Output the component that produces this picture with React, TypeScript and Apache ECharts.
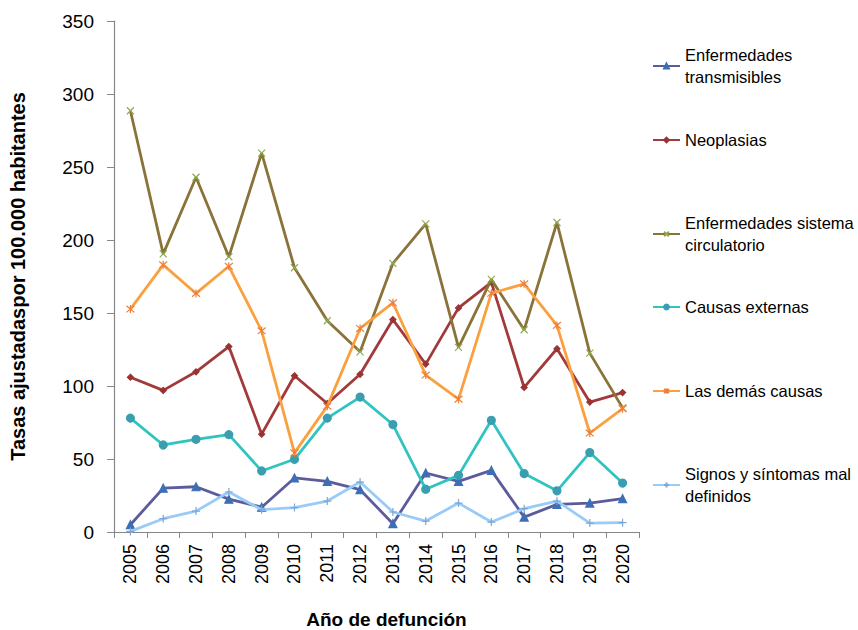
import React, { useEffect, useRef } from "react";
import * as echarts from "echarts";

const years = ["2005","2006","2007","2008","2009","2010","2011","2012","2013","2014","2015","2016","2017","2018","2019","2020"];
const transmisibles = [5, 30, 31, 22.5, 17, 37, 34.7, 29, 5.7, 40.4, 34.7, 42.2, 10.2, 18.9, 19.8, 22.8];
const neoplasias = [106, 97, 109.7, 127, 67, 107, 88, 108, 145.5, 115, 153.5, 171, 99, 125.5, 89, 95.5];
const circulatorio = [288.5, 190.5, 243, 188.5, 259.5, 181, 144.7, 123.4, 184, 211, 126.5, 173, 138.5, 212, 122.5, 85];
const externas = [78, 59.6, 63.5, 66.7, 41.8, 49.8, 78, 92.4, 73.6, 29.3, 38.8, 76.5, 40, 28.2, 54.4, 33.5];
const demas = [152.7, 183, 163.4, 182, 137.8, 54.2, 86.2, 139.4, 157, 107.5, 91, 163.5, 170, 141.5, 67.8, 84.5];
const signos = [0.4, 9.1, 14.3, 27.4, 15.3, 16.7, 21.2, 34.2, 13.7, 7.5, 19.8, 6.8, 16, 21.2, 6.1, 6.4];
const yTicks = [0, 50, 100, 150, 200, 250, 300, 350];

const names = [
  "Enfermedades transmisibles",
  "Neoplasias",
  "Enfermedades sistema circulatorio",
  "Causas externas",
  "Las demás causas",
  "Signos y síntomas mal definidos",
];
const legendLabels = [
  "Enfermedades\ntransmisibles",
  "Neoplasias",
  "Enfermedades sistema\ncirculatorio",
  "Causas externas",
  "Las demás causas",
  "Signos y síntomas mal\ndefinidos",
];
const legendTops = [33, 129, 201, 296, 380, 452];

const FONT = "'Liberation Sans', Arial, sans-serif";

export default function App() {
  const ref = useRef<HTMLDivElement>(null);
  useEffect(() => {
    if (!ref.current) return;
    const chart = echarts.init(ref.current, undefined, { renderer: "svg" });
    const X = "path://M0,0L10,10M10,0L0,10";
    const AST = "path://M0,0L10,10M10,0L0,10M5,-1L5,11";
    const PLUS = "path://M5,0L5,10M0,5L10,5";
    const seriesDefs = [
      { data: transmisibles, line: "#5C5C9C", mark: "#3C6FB6", symbol: "triangle", size: 8 },
      { data: neoplasias, line: "#A23A3B", mark: "#9A3333", symbol: "diamond", size: 6 },
      { data: circulatorio, line: "#8A7339", mark: "#8DAA50", symbol: X, size: 7 },
      { data: externas, line: "#30C4C1", mark: "#3A9EB0", symbol: "circle", size: 8 },
      { data: demas, line: "#FBA03E", mark: "#EB7F3C", symbol: AST, size: 8 },
      { data: signos, line: "#99CBF8", mark: "#7DA7D8", symbol: PLUS, size: 8 },
    ];
    const multi = (i: number) => legendLabels[i].indexOf("\n") >= 0;
    chart.setOption({
      animation: false,
      grid: {
        left: 114,
        right: 219,
        top: 21,
        bottom: 98,
        containLabel: false,
        outerBoundsMode: "none",
      },
      legend: names.map((n, i) => ({
        data: [n],
        left: 652,
        top: legendTops[i],
        padding: 0,
        itemWidth: 27,
        itemHeight: 6,
        orient: "vertical",
        selectedMode: false,
        formatter: () => legendLabels[i],
        textStyle: {
          fontFamily: FONT,
          fontSize: 16.5,
          color: "#000",
          lineHeight: 22,
          padding: multi(i) ? [22, 0, 0, 0] : 0,
        },
      })),
      xAxis: {
        type: "category",
        data: years,
        boundaryGap: true,
        name: "Año de defunción",
        nameLocation: "middle",
        nameGap: 78,
        nameTextStyle: {
          fontFamily: FONT,
          fontWeight: "bold",
          fontSize: 19,
          color: "#000",
          padding: [0, 0, 0, 20],
        },
        axisLine: { lineStyle: { color: "#878787", width: 1.2 } },
        axisTick: { show: true, length: 6, lineStyle: { color: "#878787" } },
        axisLabel: { rotate: 90, fontSize: 18, fontFamily: FONT, color: "#000", margin: 12 },
        splitLine: { show: false },
      },
      yAxis: {
        type: "value",
        min: 0,
        max: 350,
        interval: 50,
        name: "Tasas ajustadaspor 100.000 habitantes",
        nameLocation: "middle",
        nameGap: 86,
        nameTextStyle: {
          fontFamily: FONT,
          fontWeight: "bold",
          fontSize: 20,
          color: "#000",
        },
        axisLine: { show: true, lineStyle: { color: "#878787", width: 1.2 } },
        axisTick: { show: true, length: 7, lineStyle: { color: "#878787" } },
        axisLabel: {
          fontSize: 19,
          fontFamily: FONT,
          color: "#000",
          margin: 20,
          formatter: (v: number) => (yTicks.indexOf(v) >= 0 ? String(v) : ""),
        },
        splitLine: { show: false },
      },
      series: seriesDefs.map((s, i) => ({
        name: names[i],
        type: "line",
        data: s.data,
        symbol: s.symbol,
        symbolSize: s.size,
        showAllSymbol: true,
        lineStyle: { color: s.line, width: 2.8 },
        itemStyle: { color: s.mark, borderColor: s.mark, borderWidth: 1.2 },
        emphasis: { disabled: true },
        z: 2 + i,
      })),
    });
    return () => chart.dispose();
  }, []);
  return (
    <div
      ref={ref}
      style={{ position: "absolute", left: 0, top: 0, width: 858, height: 630 }}
    />
  );
}
